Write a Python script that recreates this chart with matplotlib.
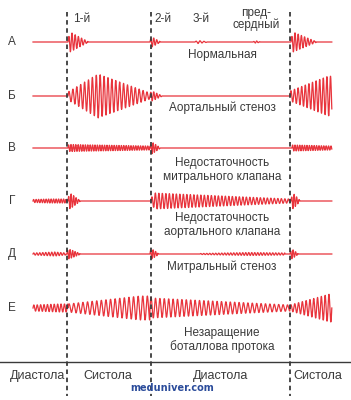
import numpy as np
import matplotlib.pyplot as plt

plt.rcParams['font.family'] = ['Liberation Sans Narrow', 'Liberation Sans', 'DejaVu Sans']

# phase boundaries (dashed lines), px along the trace
phase_x = [67, 151, 290]
phase_labels = ['Диастола', 'Систола', 'Диастола', 'Систола']
phase_label_x = [38, 108, 221, 318]

heart_sounds = ['1-й', '2-й', '3-й', 'пред-\nсердный']
heart_sound_x = [82, 163, 201, 256]

row_letters = ['А', 'Б', 'В', 'Г', 'Д', 'Е']
row_y = [42, 96, 148, 201, 254, 308]
row_names = ['Нормальная', 'Аортальный стеноз',
             'Недостаточность\nмитрального клапана',
             'Недостаточность\nаортального клапана',
             'Митральный стеноз',
             'Незаращение\nботаллова протока']
name_y = [55, 108, 170, 225, 267, 340]

# bursts per row: (start, peak, end, amp_start, amp_peak, amp_end, period)
bursts = [
    [(68, 70, 88, 2, 10, 0.5, 3.2), (150, 152, 160, 2, 5, 0.5, 3),
     (195, 198, 207, 0.5, 1.5, 0.3, 4), (253, 256, 260, 0.3, 1.2, 0.2, 3),
     (291, 293, 316, 2, 10, 0.5, 3.2)],
    [(68, 98, 150, 4, 22, 3, 3.9), (150, 152, 162, 3, 5, 0.3, 3),
     (290, 328, 332, 5, 20, 20, 3.6)],
    [(68, 70, 150, 3, 3.5, 2, 2.4), (150, 152, 160, 2, 6, 0.5, 2.5),
     (292, 294, 332, 3, 3, 2, 2.4)],
    [(33, 50, 66, 1.5, 2, 2, 2.5), (68, 70, 80, 3, 8, 0.5, 2.5),
     (151, 155, 290, 3, 8, 2, 3.5), (291, 293, 300, 2, 8, 0.5, 2.5)],
    [(33, 55, 66, 1, 2, 1, 3), (67, 69, 80, 3, 5, 0.5, 2.5),
     (150, 152, 158, 3, 5, 1, 2.5), (200, 250, 285, 0.5, 1.5, 1, 3),
     (290, 292, 298, 2, 5, 0.5, 2.5)],
    [(33, 60, 68, 3, 4, 4, 3.4), (68, 140, 150, 4, 12, 12, 4.6),
     (150, 152, 290, 12, 10, 3, 4.4), (290, 330, 332, 3, 14, 14, 3.8)],
]

red = '#e8343c'
ink = '#3a3a3a'

fig = plt.figure(figsize=(3.51, 4.0), dpi=100)
ax = fig.add_axes([0, 0, 1, 1])
ax.set_xlim(0, 351)
ax.set_ylim(400, 0)
ax.axis('off')

x = np.arange(33, 332, 0.2)
for y0, row in zip(row_y, bursts):
    sig = np.zeros_like(x)
    for (s, p, e, a0, a1, a2, per) in row:
        m = (x >= s) & (x <= e)
        env = np.interp(x[m], [s, p, e], [a0, a1, a2])
        sig[m] += env * np.sin(2 * np.pi * (x[m] - s) / per)
    ax.plot(x, y0 - sig, color=red, lw=0.9)

for px in phase_x:
    ax.plot([px, px], [12, 396], color=ink, lw=1.3, ls=(0, (2.5, 2)))
ax.plot([0, 351], [362, 362], color=ink, lw=1)

for lab, px in zip(phase_labels, phase_label_x):
    ax.text(px, 376, lab, ha='center', va='center', fontsize=9, color=ink)
for lab, px in zip(heart_sounds, heart_sound_x):
    ax.text(px, 19, lab, ha='center', va='center', fontsize=8.5, color=ink,
            linespacing=1.0)
for lab, y0 in zip(row_letters, row_y):
    ax.text(12, y0, lab, ha='center', va='center', fontsize=8.5, color=ink)
for lab, y0 in zip(row_names, name_y):
    ax.text(222, y0, lab, ha='center', va='center', fontsize=8.5, color=ink,
            linespacing=1.15)

ax.text(172, 388, 'meduniver.com', ha='center', va='center', fontsize=7,
        color='#2b4c9b', fontweight='bold', family=['DejaVu Sans'])

fig.savefig('out.png', dpi=100)
